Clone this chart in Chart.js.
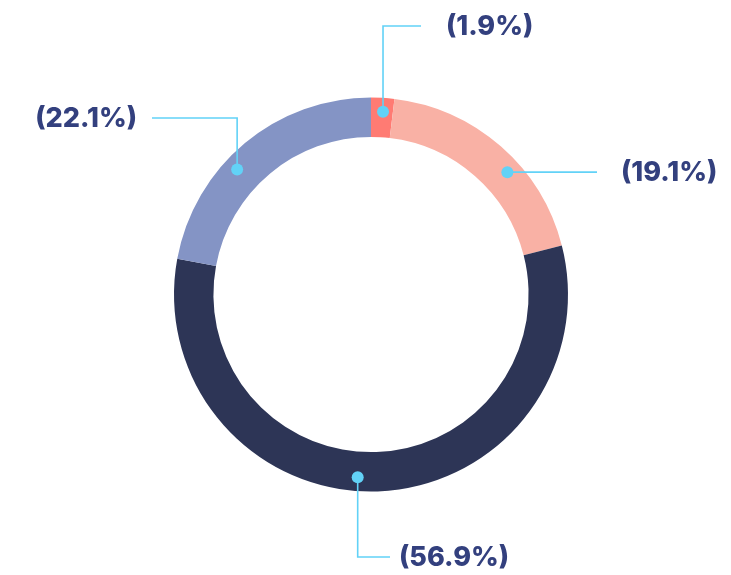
<!DOCTYPE html>
<html>
<head>
<meta charset="utf-8">
<script src="https://cdn.jsdelivr.net/npm/chart.js@4.4.0/dist/chart.umd.min.js"></script>
<style>
  html, body { margin: 0; padding: 0; background: #fff; }
  #wrap { width: 731px; height: 575px; position: relative; }
</style>
</head>
<body>
<div id="wrap"><canvas id="donut"></canvas></div>
<script>
const categories = ['A', 'B', 'C', 'D'];
const shares = [1.9, 19.1, 56.9, 22.1];
const sliceLabels = ['(1.9%)', '(19.1%)', '(56.9%)', '(22.1%)'];
const sliceColors = ['#ff7b73', '#f9b1a5', '#2d3556', '#8494c5'];

// leader line layout: where the dot sits inside the slice, and the path to the label
const leaders = [
  { frac: 0.55, path: 'up-right', elbowY: 26, endX: 421, textX: 446, align: 'left' },
  { frac: 0.60, path: 'right', endX: 597, textX: 621, align: 'left' },
  { frac: 0.53, path: 'down-right', elbowY: 557, endX: 390, textX: 399, align: 'left' },
  { frac: 0.41, path: 'up-left', elbowY: 118, endX: 152, textX: 137, align: 'right' }
];

const leaderPlugin = {
  id: 'leaders',
  afterDatasetsDraw(chart) {
    const ctx = chart.ctx;
    const meta = chart.getDatasetMeta(0);
    ctx.save();
    meta.data.forEach((arc, i) => {
      const p = arc.getProps(['x', 'y', 'startAngle', 'endAngle', 'innerRadius', 'outerRadius'], true);
      const L = leaders[i];
      const a = p.startAngle + (p.endAngle - p.startAngle) * L.frac;
      const r = p.innerRadius + (p.outerRadius - p.innerRadius) * 0.65;
      const dx = p.x + Math.cos(a) * r;
      const dy = p.y + Math.sin(a) * r;
      ctx.strokeStyle = '#62d2f7';
      ctx.lineWidth = 1.6;
      ctx.beginPath();
      ctx.moveTo(dx, dy);
      let ty;
      if (L.path === 'right') {
        ctx.lineTo(L.endX, dy);
        ty = dy;
      } else {
        ctx.lineTo(dx, L.elbowY);
        ctx.lineTo(L.endX, L.elbowY);
        ty = L.elbowY;
      }
      ctx.stroke();
      ctx.fillStyle = '#62d2f7';
      ctx.beginPath();
      ctx.arc(dx, dy, 6, 0, Math.PI * 2);
      ctx.fill();
      ctx.fillStyle = '#33407e';
      ctx.font = '800 27px Inter';
      ctx.textAlign = L.align;
      ctx.textBaseline = 'middle';
      ctx.fillText(sliceLabels[i], L.textX, ty + 1);
    });
    ctx.restore();
  }
};

new Chart(document.getElementById('donut'), {
  type: 'doughnut',
  data: {
    labels: categories,
    datasets: [{
      data: shares,
      backgroundColor: sliceColors,
      borderWidth: 0
    }]
  },
  options: {
    responsive: true,
    maintainAspectRatio: false,
    animation: false,
    cutout: '80%',
    layout: { padding: { left: 174, right: 163, top: 97, bottom: 83 } },
    plugins: {
      legend: { display: false },
      tooltip: { enabled: false }
    }
  },
  plugins: [leaderPlugin]
});
</script>
</body>
</html>
